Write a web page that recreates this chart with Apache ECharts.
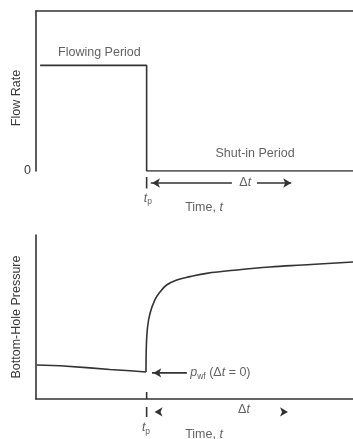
<!DOCTYPE html>
<html>
<head>
<meta charset="utf-8">
<script src="https://cdn.jsdelivr.net/npm/echarts@6/dist/echarts.min.js"></script>
<style>html,body{margin:0;padding:0;background:#fff}#c{width:353px;height:439px}</style>
</head>
<body>
<div id="c"></div>
<script>
// ---- data ----
const tp = 3.49;                          // end of flowing period (time axis 0..10)
const flowTime = [0.13, 3.49, 3.49, 10];
const flowRate = [0.66, 0.66, 0, 0];
const drawdownTime = [0.03, 0.76, 1.7, 2.33, 2.97, 3.47];
const drawdownP    = [0.207, 0.203, 0.19, 0.18, 0.172, 0.165];
const buildupTime = [3.47, 3.48, 3.52, 3.6, 3.75, 3.91, 4.12, 4.44, 4.86, 5.38, 6.34, 7.38, 8.42, 10];
const buildupP    = [0.165, 0.317, 0.439, 0.524, 0.604, 0.652, 0.695, 0.726, 0.746, 0.766, 0.787, 0.805, 0.817, 0.835];
const yTicks = [0, 1];

const zip = (a, b) => a.map((v, i) => [v, b[i]]);
const INK = '#333';
const TXT = '#3a3a3a';
const FONT = "'Liberation Sans', Arial, sans-serif";
const FS = 12.5;

const rich = {
  i: { fontStyle: 'italic', fontSize: FS, color: TXT, fontFamily: FONT },
  s: { fontSize: 8.5, color: TXT, fontFamily: FONT, padding: [7, 0, 0, 0] }
};
// text label item (anchored at a data coordinate)
function txt(x, y, text, pos) {
  return {
    value: [x, y],
    label: { show: true, position: pos || 'inside', distance: 0, formatter: text,
      color: TXT, fontSize: FS, fontFamily: FONT, rich }
  };
}
function arrowHead(x, y, rot) {
  return { value: [x, y], symbolRotate: rot };
}
const lineStyle = { color: INK, width: 1.6 };

// annotation segments (null separates segments)
const topSegs = [
  [tp, -0.0375], [tp, -0.11], null,
  [3.62, -0.075], [6.18, -0.075], null,
  [6.97, -0.075], [8.05, -0.075]
];
const botSegs = [
  [tp, 0.043], [tp, 0], null,
  [tp, -0.049], [tp, -0.11], null,
  [3.66, 0.159], [4.76, 0.159]
];

function segSeries(xi, data) {
  return { type: 'line', xAxisIndex: xi, yAxisIndex: xi, clip: false, silent: true,
    data, connectNulls: false, symbol: 'none', lineStyle };
}
function headSeries(xi, data) {
  return { type: 'scatter', xAxisIndex: xi, yAxisIndex: xi, clip: false, silent: true,
    data, symbol: 'arrow', symbolSize: [7, 8], itemStyle: { color: INK, opacity: 1 } };
}
function textSeries(xi, data) {
  return { type: 'scatter', xAxisIndex: xi, yAxisIndex: xi, clip: false, silent: true,
    data, symbol: 'circle', symbolSize: 1, itemStyle: { color: 'rgba(0,0,0,0)' } };
}

const option = {
  animation: false,
  grid: [
    { left: 36, right: 0, top: 11, height: 160, outerBoundsMode: 'none', containLabel: false },
    { left: 36, right: 0, top: 235, height: 164, outerBoundsMode: 'none', containLabel: false }
  ],
  xAxis: [
    { gridIndex: 0, type: 'value', min: 0, max: 10, position: 'top',
      axisLine: { show: true, onZero: false, lineStyle: { color: INK, width: 1.6 } },
      axisTick: { show: false }, axisLabel: { show: false }, splitLine: { show: false } },
    { gridIndex: 1, type: 'value', min: 0, max: 10, position: 'bottom',
      axisLine: { show: true, onZero: false, lineStyle: { color: INK, width: 1.6 } },
      axisTick: { show: false }, axisLabel: { show: false }, splitLine: { show: false } }
  ],
  yAxis: [
    { gridIndex: 0, type: 'value', min: yTicks[0], max: yTicks[1], interval: 1,
      name: 'Flow Rate', nameLocation: 'middle', nameGap: 13, nameRotate: 90, nameMoveOverlap: false,
      nameTextStyle: { color: TXT, fontSize: FS, fontFamily: FONT, padding: [0, 14, 0, 0] },
      axisLine: { show: true, onZero: false, lineStyle: { color: INK, width: 1.6 } },
      axisTick: { show: false }, splitLine: { show: false },
      axisLabel: { margin: 5, color: TXT, fontSize: FS, fontFamily: FONT,
        formatter: v => (v === 0 ? '0' : '') } },
    { gridIndex: 1, type: 'value', min: 0, max: 1,
      name: 'Bottom-Hole Pressure', nameLocation: 'middle', nameGap: 13, nameRotate: 90, nameMoveOverlap: false,
      nameTextStyle: { color: TXT, fontSize: FS, fontFamily: FONT },
      axisLine: { show: true, onZero: false, lineStyle: { color: INK, width: 1.6 } },
      axisTick: { show: false }, splitLine: { show: false }, axisLabel: { show: false } }
  ],
  series: [
    { name: 'flow', type: 'line', xAxisIndex: 0, yAxisIndex: 0,
      data: zip(flowTime, flowRate), symbol: 'none', lineStyle },
    { name: 'drawdown', type: 'line', xAxisIndex: 1, yAxisIndex: 1,
      data: zip(drawdownTime, drawdownP), symbol: 'none', lineStyle },
    { name: 'buildup', type: 'line', xAxisIndex: 1, yAxisIndex: 1,
      data: zip(buildupTime, buildupP), symbol: 'none', lineStyle, smooth: 0.4 },

    segSeries(0, topSegs),
    headSeries(0, [arrowHead(3.66, -0.075, 90), arrowHead(8.05, -0.075, -90)]),
    textSeries(0, [
      txt(2.0, 0.74, 'Flowing Period'),
      txt(6.91, 0.11, 'Shut-in Period'),
      txt(6.6, -0.072, 'Δ{i|t}'),
      txt(3.53, -0.17, '{i|t}{s|p}'),
      txt(5.3, -0.23, 'Time, {i|t}')
    ]),

    segSeries(1, botSegs),
    headSeries(1, [arrowHead(3.7, 0.159, 90), arrowHead(3.74, -0.079, 90), arrowHead(7.95, -0.079, -90)]),
    textSeries(1, [
      txt(6.56, -0.065, 'Δ{i|t}'),
      txt(3.47, -0.175, '{i|t}{s|p}'),
      txt(5.3, -0.215, 'Time, {i|t}'),
      txt(4.85, 0.159, '{i|p}{s|wf} (Δ{i|t} = 0)', 'right')
    ])
  ]
};

const chart = echarts.init(document.getElementById('c'), null, { renderer: 'canvas' });
chart.setOption(option);
</script>
</body>
</html>
